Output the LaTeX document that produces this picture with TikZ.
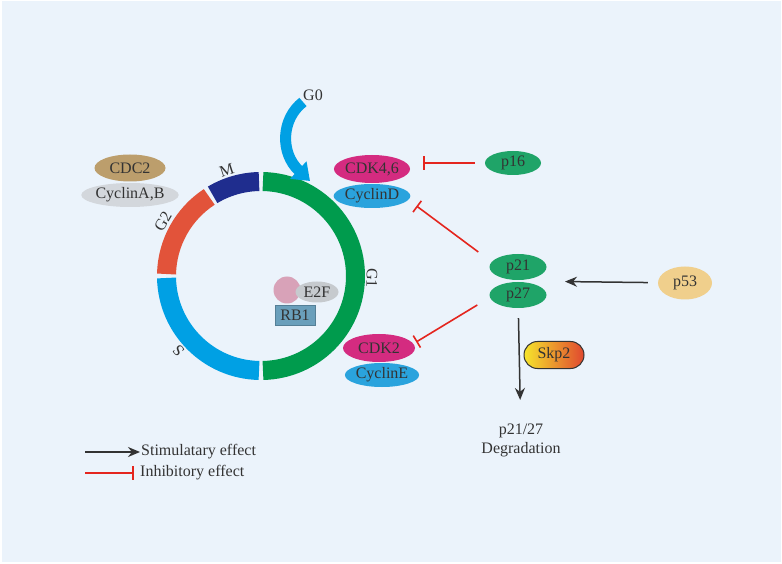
\documentclass[tikz,border=0pt]{standalone}
\usepackage{fontspec}
\setmainfont{Liberation Serif}
\usetikzlibrary{arrows.meta,positioning,shapes.geometric,calc}

\definecolor{bgblue}{HTML}{EBF3FB}
\definecolor{txtgray}{HTML}{333333}
\definecolor{ringG1}{HTML}{009B4D}
\definecolor{ringS}{HTML}{00A0E4}
\definecolor{ringG2}{HTML}{E2533A}
\definecolor{ringM}{HTML}{1F2D8E}
\definecolor{protgreen}{HTML}{1FA468}
\definecolor{protmag}{HTML}{D42B80}
\definecolor{protblue}{HTML}{2AA3DD}
\definecolor{protgray}{HTML}{D3D7DC}
\definecolor{prottan}{HTML}{BC9E6C}
\definecolor{protsand}{HTML}{F0CF8C}
\definecolor{protpink}{HTML}{D8A2B8}
\definecolor{rbblue}{HTML}{6A9FBB}
\definecolor{inhred}{HTML}{E4251E}
\definecolor{skpyel}{HTML}{F6E52C}
\definecolor{skpred}{HTML}{E0472F}

\begin{document}
\begin{tikzpicture}[x=1pt,y=1pt,on grid,
    every node/.style={text=txtgray,font=\fontsize{16}{19}\selectfont},
    prot/.style={ellipse,inner sep=0pt,minimum width=#1},
    prot/.default=57pt,
    phaselbl/.style={inner sep=0pt},
    stim/.style={draw=txtgray,line width=1.5pt,-{Stealth[length=12pt,width=10pt]}},
    inhib/.style={draw=inhred,line width=1.6pt,-{Bar[width=14pt,line width=1.6pt]}},
    phase/.style={line width=19pt}]
    \useasboundingbox (0,0) rectangle (782,563);
    \fill[white] (0,0) rectangle (782,563);
    \fill[bgblue] (1.5,1.5) rectangle (780.5,561.5);

    \coordinate (ring) at (261,287);
    \foreach \a/\b/\c in {88.8/-88.8/ringG1, 268.8/181.2/ringS, 178.8/123.2/ringG2, 120.8/91.2/ringM}
        \draw[phase,\c] ([shift={(\a:94.5)}]ring) arc (\a:\b:94.5);
    \node[phaselbl,rotate=-91] (lblG1) at ([shift={(-1:111)}]ring) {G1};
    \node[phaselbl,rotate=132] (lblS) at ([shift={(222:111)}]ring) {S};
    \node[phaselbl,rotate=60] (lblG2) at ([shift={(151:112)}]ring) {G2};
    \node[phaselbl,rotate=18] (lblM) at ([shift={(108:111)}]ring) {M};

    \node (g0) at (313,468) {G0};
    \coordinate (g0start) at (303,461);
    \draw[ringS,line width=11pt,-{Triangle[width=23pt,length=16pt]}]
        (g0start) .. controls (281,444) and (280,410) .. (310,382);

    \node[prot=71pt,fill=prottan,minimum height=27pt] (cdc2) at (130,395) {CDC2};
    \node[prot=83pt,fill=protgray,minimum height=24pt] (cycAB) [below=27pt of cdc2] {CyclinA,B};

    \node[prot=71pt,fill=protmag,minimum height=28pt] (cdk46) at (372,394) {CDK4,6};
    \node[prot=70pt,fill=protblue,minimum height=24pt] (cycD) [below=27pt of cdk46] {CyclinD};

    \node[prot=72pt,fill=protmag,minimum height=28pt] (cdk2) at (379,215) {CDK2};
    \node[prot=70pt,fill=protblue,minimum height=24pt] (cycE) [below right=27pt and 3pt of cdk2] {CyclinE};

    \node[prot=56pt,fill=protgreen,minimum height=24pt] (p16) at (513,400) {p16};
    \node[prot,fill=protgreen,minimum height=26pt] (p21) at (518,296) {p21};
    \node[prot,fill=protgreen,minimum height=26pt] (p27) [below=28pt of p21] {p27};
    \coordinate (p2127) at ($(p21)!0.5!(p27)$);
    \node[prot=54pt,fill=protsand,minimum height=33pt] (p53) at (685,280) {p53};

    \node[draw=txtgray,line width=1pt,rounded corners=13.5pt,left color=skpyel,right color=skpred,
          minimum width=60pt,minimum height=27pt,inner sep=0pt] (skp2) at (554,208) {Skp2};
    \node[align=center] (deg) at (521,123) {p21/27\\Degradation};

    \node[draw=rbblue!80!black,fill=rbblue,minimum width=40pt,minimum height=20pt,inner sep=0pt] (rb1) at (295,248) {RB1};
    \node[circle,fill=protpink,minimum size=27pt,inner sep=0pt] (pink) at (287,273) {};
    \node[prot=43pt,fill=protgray!85!gray,minimum height=21pt] (e2f) at (317,271) {E2F};

    \draw[inhib] ([xshift=-10pt]p16.west) -- ([xshift=13pt]cdk46.east |- p16.west);
    \draw[inhib] ([xshift=-11pt,yshift=15pt]p21.west) -- ([xshift=6pt,yshift=-10pt]cycD.east);
    \draw[inhib] ([xshift=-12pt,yshift=-10pt]p27.west) -- ([xshift=1pt,yshift=6pt]cdk2.east);
    \draw[stim,shorten <=10pt,shorten >=47pt] (p53) -- (p2127);
    \draw[stim,shorten <=10pt,shorten >=20pt] (p27) -- (deg);

    \node[anchor=west,inner sep=0pt] (stimtxt) at (141,111) {Stimulatary effect};
    \node[anchor=west,inner sep=0pt] (inhtxt) at (140,90) {Inhibitory effect};
    \coordinate (stimleg) at (85,111);
    \coordinate (inhleg) at (85,90);
    \draw[stim] (stimleg) -- ([xshift=-1pt]stimtxt.west);
    \draw[inhib] (inhleg) -- ([xshift=-6pt]inhtxt.west);
\end{tikzpicture}
\end{document}
